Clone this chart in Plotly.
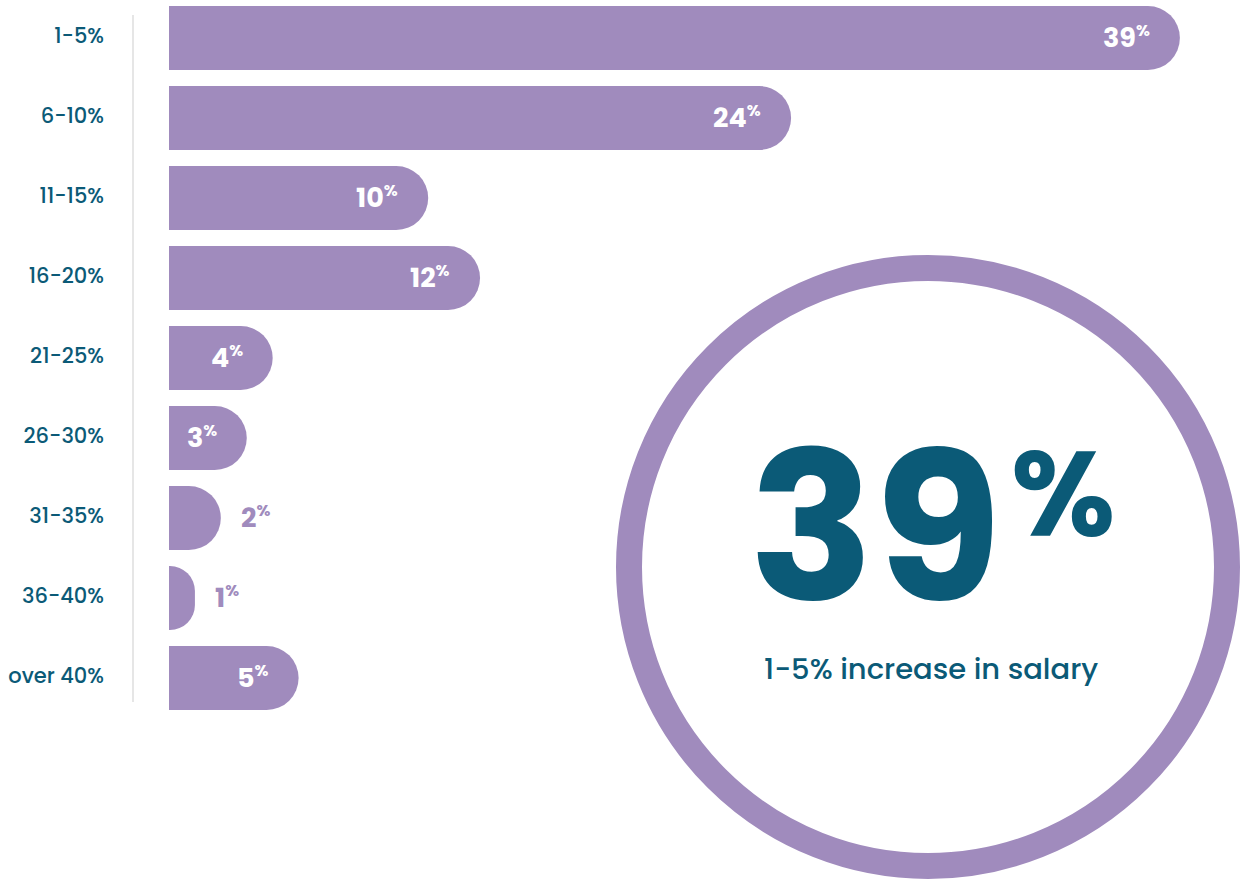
import plotly.graph_objects as go

# Salary increase bands and share of respondents (%)
categories = ["1-5%", "6-10%", "11-15%", "16-20%", "21-25%", "26-30%", "31-35%", "36-40%", "over 40%"]
shares = [39, 24, 10, 12, 4, 3, 2, 1, 5]
label_inside = [True, True, True, True, True, True, False, False, True]

PURPLE = "#a08bbd"
TEAL = "#0b5a77"
FONT = "Poppins, Inter, 'Open Sans', sans-serif"

W, H = 1242, 881
ML = 133
PX_PER_UNIT = 25.92
X0_PX = 169          # pixel where value 0 sits
PITCH = 80           # pixel distance between bars
FIRST_CENTER = 38

xmin = -(X0_PX - ML) / PX_PER_UNIT
xmax = xmin + (W - ML) / PX_PER_UNIT
ytop = -FIRST_CENTER / PITCH
ybot = ytop + H / PITCH

fig = go.Figure()
fig.add_trace(go.Bar(
    x=shares,
    y=list(range(len(categories))),
    orientation="h",
    width=0.8,
    marker=dict(color=PURPLE, line=dict(width=0)),
    hoverinfo="skip",
))

# value labels at the end of each bar, with a small raised percent sign
for i, (v, inside) in enumerate(zip(shares, label_inside)):
    fig.add_annotation(
        x=v, y=i, xref="x", yref="y",
        text=f"<b>{v}<sup><span style='font-size:16px'>%</span></sup></b>",
        showarrow=False,
        xanchor="right" if inside else "left",
        xshift=-28 if inside else 18,
        yshift=1,
        font=dict(family=FONT, size=27, color="white" if inside else PURPLE),
    )

# light vertical rule next to the category labels
fig.add_shape(type="line", xref="paper", yref="paper",
              x0=0, x1=0, y0=1 - 702 / H, y1=1 - 15 / H,
              line=dict(color="#e6e6e6", width=2))

# highlight ring
cx, cy, r = 928, 567, 299
fig.add_shape(type="circle", xref="paper", yref="paper",
              xsizemode="pixel", ysizemode="pixel",
              xanchor=(cx - ML) / (W - ML), yanchor=1 - cy / H,
              x0=-r, x1=r, y0=-r, y1=r,
              line=dict(color=PURPLE, width=26), fillcolor="rgba(0,0,0,0)")

def px_x(p):
    return (p - ML) / (W - ML)

def px_y(p):
    return 1 - p / H

fig.add_annotation(x=px_x(1004), y=px_y(527), xref="paper", yref="paper",
                   text=f"<b>{shares[0]}</b>", showarrow=False,
                   xanchor="right", yanchor="middle",
                   font=dict(family=FONT, size=207, color=TEAL, weight=900))
fig.add_annotation(x=px_x(1009), y=px_y(494), xref="paper", yref="paper",
                   text="<b>%</b>", showarrow=False,
                   xanchor="left", yanchor="middle",
                   font=dict(family=FONT, size=120, color=TEAL, weight=900))
fig.add_annotation(x=px_x(931), y=px_y(669), xref="paper", yref="paper",
                   text=f"{categories[0]} increase in salary", showarrow=False,
                   xanchor="center", yanchor="middle",
                   font=dict(family=FONT, size=29, color=TEAL, weight=500))

fig.update_layout(
    width=W, height=H,
    margin=dict(l=ML, r=0, t=0, b=0),
    paper_bgcolor="white", plot_bgcolor="white",
    showlegend=False,
    barcornerradius="50%",
    xaxis=dict(range=[xmin, xmax], visible=False, fixedrange=True),
    yaxis=dict(
        range=[ybot, ytop],
        tickmode="array",
        tickvals=list(range(len(categories))),
        ticktext=categories,
        showgrid=False, zeroline=False, showline=False,
        ticks="", ticklabelstandoff=28, ticklabelshift=2,
        tickfont=dict(family=FONT, size=21, color=TEAL, weight=500),
        fixedrange=True,
    ),
)

fig.write_html("out.html")
